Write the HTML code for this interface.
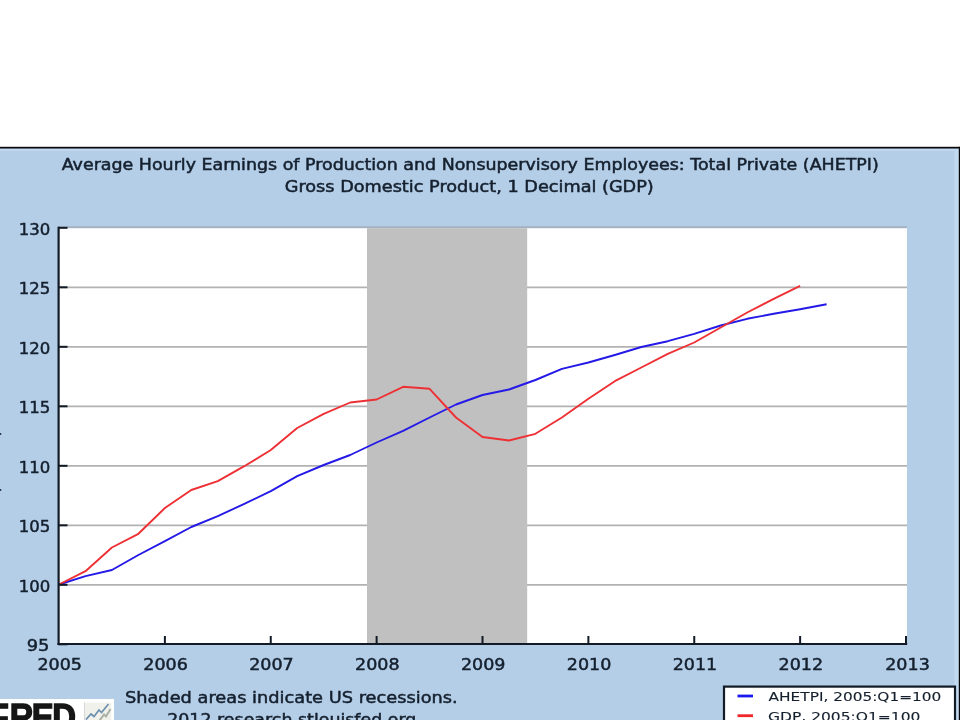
<!DOCTYPE html>
<html><head><meta charset="utf-8"><title>FRED Graph</title>
<style>
html,body{margin:0;padding:0;background:#fff;}
body{width:960px;height:720px;overflow:hidden;position:relative;}
svg{position:absolute;left:0;top:0;display:block;}
text{font-family:"DejaVu Sans","Liberation Sans",sans-serif;fill:#15202e;stroke:#15202e;stroke-width:0.5px;}
.lg text{stroke-width:0.12px;}
</style></head><body>
<svg width="960" height="720" viewBox="0 0 960 720">
<rect x="0" y="0" width="960" height="720" fill="#ffffff"/>
<rect x="-2" y="148" width="962" height="574" fill="#b4cee8"/>
<rect x="-2" y="148" width="961" height="3" fill="#c2d8ee"/>
<rect x="954.4" y="148" width="5" height="574" fill="#c2d8ee"/>
<rect x="-2" y="146.8" width="964" height="1.7" fill="#05070b"/>
<rect x="958.8" y="146.8" width="2" height="575" fill="#05070b"/>
<rect x="0" y="433" width="1.2" height="2" fill="#2a3646"/><rect x="0" y="489" width="1.2" height="2" fill="#2a3646"/>
<rect x="59" y="227.4" width="848" height="417" fill="#ffffff"/>
<rect x="59" y="226.3" width="848" height="1.9" fill="#a3b1c0"/>
<g stroke="#b2b2b2" stroke-width="1.8"><line x1="60" x2="907" y1="287.30" y2="287.30"/><line x1="60" x2="907" y1="346.80" y2="346.80"/><line x1="60" x2="907" y1="406.30" y2="406.30"/><line x1="60" x2="907" y1="465.80" y2="465.80"/><line x1="60" x2="907" y1="525.30" y2="525.30"/><line x1="60" x2="907" y1="584.80" y2="584.80"/></g>
<rect x="367" y="228.2" width="160.2" height="416" fill="#c0c0c0"/>
<polyline fill="none" stroke="#2419e6" stroke-width="1.9" stroke-linejoin="round" points="59.0,584.5 85.5,576.2 111.9,570.0 138.4,555.0 164.9,541.2 191.3,527.0 217.8,516.2 244.3,503.8 270.8,491.2 297.2,476.2 323.7,465.0 350.2,455.0 376.6,442.5 403.1,430.8 429.6,417.5 456.0,404.5 482.5,395.0 509.0,389.5 535.4,380.0 561.9,368.8 588.4,362.5 614.8,355.0 641.3,347.0 667.8,341.2 694.2,333.8 720.7,325.5 747.2,318.8 773.7,313.8 800.1,309.2 826.6,304.2"/>
<polyline fill="none" stroke="#ee3034" stroke-width="1.9" stroke-linejoin="round" points="59.0,584.5 85.5,571.2 111.9,547.5 138.4,533.8 164.9,508.0 191.3,490.0 217.8,481.2 244.3,466.2 270.8,450.0 297.2,428.0 323.7,413.8 350.2,402.5 376.6,399.5 403.1,386.8 429.6,388.8 456.0,417.5 482.5,437.0 509.0,440.5 535.4,433.8 561.9,417.5 588.4,398.8 614.8,381.2 641.3,367.5 667.8,353.8 694.2,342.5 720.7,327.5 747.2,312.5 773.7,298.8 800.1,285.8"/>
<g stroke="#121a26" stroke-width="2.2">
<line x1="58.6" x2="58.6" y1="226.7" y2="645.1"/>
<line x1="57.5" x2="907.2" y1="644" y2="644"/>
</g>
<g stroke="#121a26" stroke-width="2">
<line x1="58" x2="67.5" y1="227.80" y2="227.80"/><line x1="58" x2="67.5" y1="287.30" y2="287.30"/><line x1="58" x2="67.5" y1="346.80" y2="346.80"/><line x1="58" x2="67.5" y1="406.30" y2="406.30"/><line x1="58" x2="67.5" y1="465.80" y2="465.80"/><line x1="58" x2="67.5" y1="525.30" y2="525.30"/><line x1="58" x2="67.5" y1="584.80" y2="584.80"/><line x1="58" x2="67.5" y1="644.30" y2="644.30"/><line x1="164.88" x2="164.88" y1="636" y2="645"/><line x1="270.75" x2="270.75" y1="636" y2="645"/><line x1="376.62" x2="376.62" y1="636" y2="645"/><line x1="482.50" x2="482.50" y1="636" y2="645"/><line x1="588.38" x2="588.38" y1="636" y2="645"/><line x1="694.25" x2="694.25" y1="636" y2="645"/><line x1="800.12" x2="800.12" y1="636" y2="645"/><line x1="906.00" x2="906.00" y1="636" y2="645"/>
</g>
<g><text x="18.70" y="234.80" font-size="16.60px" textLength="31.60" lengthAdjust="spacingAndGlyphs">130</text><text x="18.70" y="294.30" font-size="16.60px" textLength="31.60" lengthAdjust="spacingAndGlyphs">125</text><text x="18.70" y="353.80" font-size="16.60px" textLength="31.60" lengthAdjust="spacingAndGlyphs">120</text><text x="18.70" y="413.30" font-size="16.60px" textLength="31.60" lengthAdjust="spacingAndGlyphs">115</text><text x="18.70" y="472.80" font-size="16.60px" textLength="31.60" lengthAdjust="spacingAndGlyphs">110</text><text x="18.70" y="532.30" font-size="16.60px" textLength="31.60" lengthAdjust="spacingAndGlyphs">105</text><text x="18.70" y="591.80" font-size="16.60px" textLength="31.60" lengthAdjust="spacingAndGlyphs">100</text><text x="26.70" y="651.30" font-size="16.60px" textLength="22.80" lengthAdjust="spacingAndGlyphs">95</text><text x="37.40" y="670.20" font-size="16.60px" textLength="44.60" lengthAdjust="spacingAndGlyphs">2005</text><text x="143.27" y="670.20" font-size="16.60px" textLength="44.60" lengthAdjust="spacingAndGlyphs">2006</text><text x="249.15" y="670.20" font-size="16.60px" textLength="44.60" lengthAdjust="spacingAndGlyphs">2007</text><text x="355.02" y="670.20" font-size="16.60px" textLength="44.60" lengthAdjust="spacingAndGlyphs">2008</text><text x="460.90" y="670.20" font-size="16.60px" textLength="44.60" lengthAdjust="spacingAndGlyphs">2009</text><text x="566.78" y="670.20" font-size="16.60px" textLength="44.60" lengthAdjust="spacingAndGlyphs">2010</text><text x="672.65" y="670.20" font-size="16.60px" textLength="44.60" lengthAdjust="spacingAndGlyphs">2011</text><text x="778.53" y="670.20" font-size="16.60px" textLength="44.60" lengthAdjust="spacingAndGlyphs">2012</text><text x="885.20" y="670.20" font-size="16.60px" textLength="44.60" lengthAdjust="spacingAndGlyphs">2013</text></g>
<g><text x="61.70" y="169.70" font-size="15.60px" textLength="817.10" lengthAdjust="spacingAndGlyphs">Average Hourly Earnings of Production and Nonsupervisory Employees: Total Private (AHETPI)</text><text x="284.70" y="192.00" font-size="15.60px" textLength="369.10" lengthAdjust="spacingAndGlyphs">Gross Domestic Product, 1 Decimal (GDP)</text></g>
<g><text x="124.95" y="703.00" font-size="16.60px" textLength="332.75" lengthAdjust="spacingAndGlyphs">Shaded areas indicate US recessions.</text><text x="167.20" y="724.50" font-size="16.60px" textLength="249.20" lengthAdjust="spacingAndGlyphs">2012 research.stlouisfed.org</text></g>
<rect x="-2" y="699" width="116" height="24" fill="#ffffff"/>
<text transform="scale(0.9,1)" x="-12.5 10.8 35.2 58" y="730" font-weight="bold" font-size="36.5px" style="font-family:'Liberation Sans',sans-serif;fill:#161616;stroke:#161616;stroke-width:1.4px">FRED</text>
<rect x="84" y="702.5" width="27.3" height="20" fill="#f1f1ec"/>
<rect x="84" y="702.5" width="1" height="20" fill="#d5d8d8"/>
<polyline fill="none" stroke="#6d8fae" stroke-width="1.7" points="86,719.5 91,714 94,716.5 99,710 101.5,712.5 108.5,704"/>
<polyline fill="none" stroke="#a9b0a6" stroke-width="2" points="97,724 104,714.5 106,716.5 110.5,709"/>
<rect x="724" y="686.6" width="231" height="40" fill="#ffffff" stroke="#121a26" stroke-width="2.2"/>
<rect x="737.5" y="694.6" width="15.5" height="2.8" fill="#1a1aee"/>
<rect x="737.5" y="714.3" width="15.5" height="2.8" fill="#f0262a"/>
<g class="lg"><text x="768.60" y="701.30" font-size="12.40px" textLength="172.70" lengthAdjust="spacingAndGlyphs">AHETPI, 2005:Q1=100</text><text x="768.00" y="721.00" font-size="12.40px" textLength="152.40" lengthAdjust="spacingAndGlyphs">GDP, 2005:Q1=100</text></g>
</svg>
</body></html>
